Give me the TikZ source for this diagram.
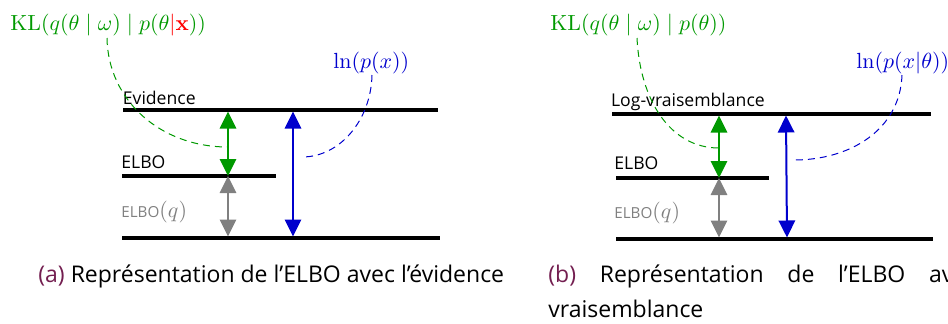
\documentclass[tikz,border=0pt]{standalone}
\usepackage[no-math]{fontspec}
\setmainfont{Open Sans}
\usepackage{amsmath,amssymb}
\usepackage{xcolor}
\usetikzlibrary{arrows.meta,positioning}
\definecolor{klgreen}{RGB}{0,153,0}
\definecolor{lnblue}{RGB}{0,0,205}
\definecolor{elbogray}{RGB}{128,128,128}
\definecolor{subcap}{RGB}{115,30,80}
\tikzset{
  levelline/.style={line width=1.6pt},
  levellabel/.style={anchor=base west,inner sep=0pt,font=\fontsize{8.8}{10}\selectfont},
  elbolabel/.style={anchor=base west,inner sep=0pt,text=elbogray,font=\fontsize{7.6}{9}\selectfont},
  mathlabel/.style={anchor=base west,inner sep=0pt,font=\fontsize{11}{13}\selectfont},
  gaparrow/.style={{Triangle[length=8.5pt,width=8.2pt]}-{Triangle[length=8.5pt,width=8.2pt]},line width=1pt},
  linkcurve/.style={dash pattern=on 3.5pt off 2.5pt,line width=0.5pt},
  subcaption/.style={anchor=base west,inner sep=0pt,font=\fontsize{11.5}{17.5}\selectfont}
}

\begin{document}
\begin{tikzpicture}[x=0.5pt,y=-0.5pt]
  \useasboundingbox (0,0) rectangle (948,323);
  % (a) evidence
  \begin{scope}
    \coordinate (evA) at (123,110);  \coordinate (evB) at (438,110);
    \coordinate (elA) at (122,176);  \coordinate (elB) at (276,176);
    \coordinate (loA) at (122,238);  \coordinate (loB) at (440,238);
    \draw[levelline] (evA) -- (evB);
    \draw[levelline] (elA) -- (elB);
    \draw[levelline] (loA) -- (loB);
    \node[levellabel] (evlabel) at (122.5,104) {Evidence};
    \node[levellabel] (ellabel) at (121,168) {ELBO};
    \node[elbolabel] (qlabel) at (121,217) {ELBO{\fontsize{10.5}{12}\selectfont$(q)$}};
    \node[mathlabel,text=klgreen] (kla) at (10,30)
      {$\mathrm{KL}(q(\theta\mid\omega)\mid p(\theta\textcolor{red}{|\mathbf{x}}))$};
    \node[mathlabel,text=lnblue] (lna) at (333,68) {$\ln(p(x))$};
    \coordinate (klgapT) at (228,111.5); \coordinate (klgapB) at (228,176);
    \coordinate (qgapB) at (228,236.5);
    \coordinate (evgapT) at (293,111.5); \coordinate (evgapB) at (293,236.5);
    \draw[gaparrow,klgreen] (klgapT) -- (klgapB);
    \draw[gaparrow,elbogray] (klgapB) -- (qgapB);
    \draw[gaparrow,lnblue] (evgapT) -- (evgapB);
    \coordinate (klfoot) at (107,38);  \coordinate (klhit) at (228,147);
    \coordinate (lnfoot) at (372,75);  \coordinate (lnhit) at (302,157);
    \draw[linkcurve,klgreen] (klfoot) .. controls (108,100) and (160,147) .. (klhit);
    \draw[linkcurve,lnblue] (lnfoot) .. controls (371,120) and (340,157) .. (lnhit);
  \end{scope}
  % (b) log-vraisemblance
  \begin{scope}
    \coordinate (lvA) at (612,114);  \coordinate (lvB) at (931,114);
    \coordinate (elA) at (616,178);  \coordinate (elB) at (769,178);
    \coordinate (loA) at (616,239);  \coordinate (loB) at (933,239);
    \draw[levelline] (lvA) -- (lvB);
    \draw[levelline] (elA) -- (elB);
    \draw[levelline] (loA) -- (loB);
    \node[levellabel] (lvlabel) at (610.7,106) {Log-vraisemblance};
    \node[levellabel] (ellabelb) at (614,169) {ELBO};
    \node[elbolabel] (qlabelb) at (614,218) {ELBO{\fontsize{10.5}{12}\selectfont$(q)$}};
    \node[mathlabel,text=klgreen] (klb) at (550,30)
      {$\mathrm{KL}(q(\theta\mid\omega)\mid p(\theta))$};
    \node[mathlabel,text=lnblue] (lnb) at (856,68) {$\ln(p(x|\theta))$};
    \coordinate (klgapT) at (719,115.5); \coordinate (klgapB) at (719,178);
    \coordinate (qgapB) at (719,237.5);
    \coordinate (lvgapT) at (786,115.5); \coordinate (lvgapB) at (787,237.5);
    \draw[gaparrow,klgreen] (klgapT) -- (klgapB);
    \draw[gaparrow,elbogray] (klgapB) -- (qgapB);
    \draw[gaparrow,lnblue] (lvgapT) -- (lvgapB);
    \coordinate (klfoot) at (637,38);  \coordinate (klhit) at (719,148);
    \coordinate (lnfoot) at (902,75);  \coordinate (lnhit) at (794,160);
    \draw[linkcurve,klgreen] (klfoot) .. controls (640,100) and (670,148) .. (klhit);
    \draw[linkcurve,lnblue] (lnfoot) .. controls (900,130) and (850,160) .. (lnhit);
  \end{scope}
  % captions
  \node[subcaption] (capa) at (38,282)
    {\textcolor{subcap}{(a)} Représentation de l’ELBO avec l’évidence};
  \node[subcaption] (capb) at (548,282)
    {\makebox[202.5pt][s]{\textcolor{subcap}{(b)} Représentation de l’ELBO av}};
  \node[subcaption] (capbb) at (548,317) {vraisemblance};
\end{tikzpicture}
\end{document}
